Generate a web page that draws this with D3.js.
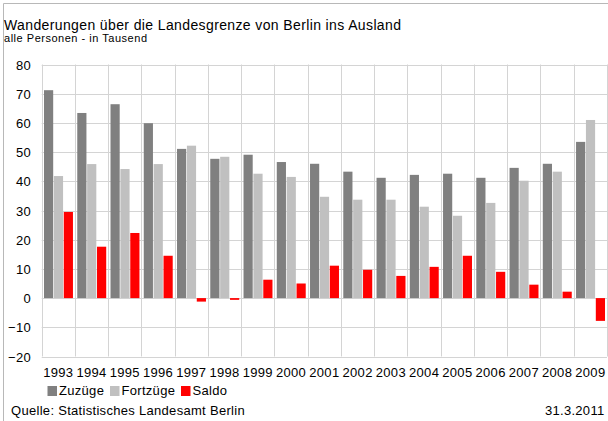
<!DOCTYPE html>
<html>
<head>
<meta charset="utf-8">
<script src="https://cdn.jsdelivr.net/npm/d3@7"></script>
<style>
  html, body { margin: 0; padding: 0; background: #fff; }
  svg { display: block; }
  text { font-family: "Liberation Sans", Arial, sans-serif; fill: #000; }
</style>
</head>
<body>
<svg id="chart" width="608" height="421"></svg>
<script>
// Wanderungen über die Landesgrenze von Berlin ins Ausland, 1993–2009 (in Tausend)
const years = ["1993","1994","1995","1996","1997","1998","1999","2000","2001",
               "2002","2003","2004","2005","2006","2007","2008","2009"];
const zuzuege  = [71.2, 63.4, 66.4, 59.9, 51.1, 47.7, 49.1, 46.6, 46.0,
                  43.3, 41.2, 42.2, 42.6, 41.2, 44.6, 46.0, 53.5];
const fortzuege = [41.8, 45.9, 44.2, 45.9, 52.2, 48.4, 42.6, 41.5, 34.7,
                   33.7, 33.7, 31.3, 28.2, 32.6, 40.2, 43.3, 61.0];
const saldo    = [29.5, 17.6, 22.3, 14.5, -1.2, -0.6, 6.3, 5.0, 11.1,
                  9.7, 7.6, 10.7, 14.5, 9.0, 4.6, 2.2, -7.8];
const seriesNames = ["Zuzüge", "Fortzüge", "Saldo"];
const seriesColors = ["#808080", "#c0c0c0", "#ff0000"];
const yTicks = [-20, -10, 0, 10, 20, 30, 40, 50, 60, 70, 80];

const svg = d3.select("#chart");

// outer frame (top and left edges visible)
svg.append("path")
  .attr("d", "M3.5,421 V3.5 H608")
  .attr("fill", "none").attr("stroke", "#b8b8b8").attr("stroke-width", 1);

// titles
svg.append("text").attr("x", 4).attr("y", 30)
  .style("font-size", "14px").attr("textLength", 397).attr("lengthAdjust", "spacing")
  .text("Wanderungen über die Landesgrenze von Berlin ins Ausland");
svg.append("text").attr("x", 4).attr("y", 42)
  .style("font-size", "11px").attr("textLength", 143).attr("lengthAdjust", "spacing")
  .text("alle Personen - in Tausend");

const plot = { left: 41.7, right: 607, top: 64.5, bottom: 356.5 };

const x = d3.scaleBand().domain(years).range([plot.left, plot.right]).padding(0);
const inner = d3.scaleBand().domain(seriesNames)
  .range([2.3, x.bandwidth() - 2.0]).paddingInner(0.07).paddingOuter(0);
const y = d3.scaleLinear().domain([-20, 80]).range([plot.bottom, plot.top]);

const grid = svg.append("g").attr("stroke", "#d4d4d4").attr("stroke-width", 1).attr("fill", "none");
// horizontal gridlines
grid.selectAll("line.h").data(yTicks).join("line")
  .attr("x1", plot.left).attr("x2", plot.right)
  .attr("y1", d => Math.round(y(d)) + 0.5).attr("y2", d => Math.round(y(d)) + 0.5);
// vertical gridlines at category boundaries
const bounds = years.map(d => x(d)).concat([plot.right]);
grid.selectAll("line.v").data(bounds).join("line")
  .attr("x1", d => Math.round(d) + 0.5).attr("x2", d => Math.round(d) + 0.5)
  .attr("y1", plot.top).attr("y2", plot.bottom);

// y axis labels
const yAxis = d3.axisLeft(y).tickValues(yTicks).tickSize(0).tickPadding(0);
const gy = svg.append("g").attr("transform", `translate(31,0)`).call(yAxis);
gy.select(".domain").remove();
gy.selectAll("text").style("font-size", "13px").style("letter-spacing", "0.3px")
  .attr("font-family", null).attr("dy", "0.36em");

// x axis labels
const xAxis = d3.axisBottom(x).tickSize(0).tickPadding(0);
const gx = svg.append("g").attr("transform", `translate(0,${plot.bottom})`).call(xAxis);
gx.select(".domain").remove();
gx.selectAll("text").style("font-size", "13px").style("letter-spacing", "0.3px")
  .attr("font-family", null).attr("dy", null).attr("y", 20.3);

// bars
const data = [zuzuege, fortzuege, saldo];
const groups = svg.append("g").selectAll("g").data(years).join("g")
  .attr("transform", d => `translate(${x(d)},0)`);
groups.selectAll("rect")
  .data((yr, i) => seriesNames.map((s, k) => ({ s, v: data[k][i], c: seriesColors[k] })))
  .join("rect")
  .attr("x", d => inner(d.s))
  .attr("width", inner.bandwidth())
  .attr("y", d => y(Math.max(0, d.v)))
  .attr("height", d => Math.abs(y(d.v) - y(0)))
  .attr("fill", d => d.c);

// legend
const legendX = [47.5, 110, 181];
const lg = svg.append("g").selectAll("g").data(seriesNames).join("g")
  .attr("transform", (d, i) => `translate(${legendX[i]},386)`);
lg.append("rect").attr("width", 9.5).attr("height", 10)
  .attr("fill", (d, i) => seriesColors[i]);
lg.append("text").attr("x", 11.5).attr("y", 8.5)
  .style("font-size", "13px").style("letter-spacing", "0.3px")
  .text(d => d);

// footer
svg.append("text").attr("x", 11).attr("y", 414.5)
  .style("font-size", "13px").style("letter-spacing", "0.3px")
  .text("Quelle: Statistisches Landesamt Berlin");
svg.append("text").attr("x", 604.5).attr("y", 414.5).attr("text-anchor", "end")
  .style("font-size", "13px").style("letter-spacing", "0.3px")
  .text("31.3.2011");
</script>
</body>
</html>
